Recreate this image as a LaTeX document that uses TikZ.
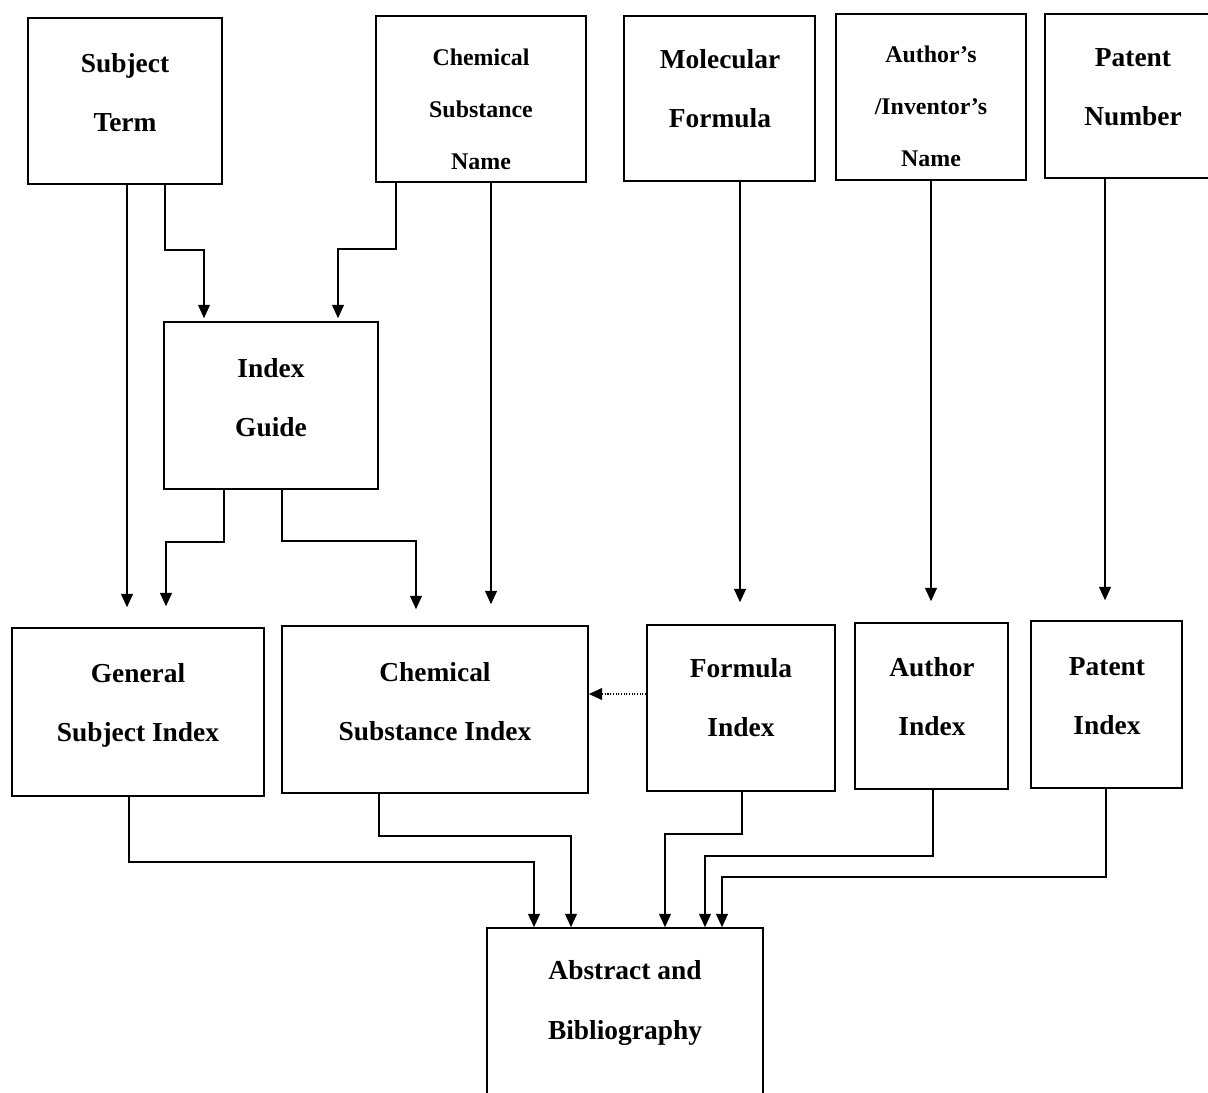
\documentclass[tikz,border=0pt]{standalone}
\usepackage{fontspec}
\setmainfont{Liberation Serif}
\usetikzlibrary{arrows.meta,fit}
\begin{document}
\begin{tikzpicture}[x=0.025cm,y=-0.025cm,
  box/.style={draw,line width=1.2pt,inner sep=0pt},
  big/.style={font=\fontsize{19.5}{42}\selectfont\bfseries,align=center,inner sep=0pt},
  small/.style={font=\fontsize{17}{37}\selectfont\bfseries,align=center,inner sep=0pt},
  conn/.style={line width=0.9pt,-{Triangle[length=9.5pt,width=8.5pt]}},
  gap/.style={shorten >=#1*0.7087pt}]
\useasboundingbox (0,0) rectangle (1208,1092);
% top row
\node[box,fit={(28,18)(222,184)}] (st) {};
\node[big] (stt) at (125,93) {Subject\\Term};
\node[box,fit={(376,16)(586,182)}] (csn) {};
\node[small] (csnt) at (481,109) {Chemical\\Substance\\Name};
\node[box,fit={(624,16)(815,181)}] (mf) {};
\node[big] (mft) at (720,89) {Molecular\\Formula};
\node[box,fit={(836,14)(1026,180)}] (an) {};
\node[small] (ant) at (931,106) {Author’s\\/Inventor’s\\Name};
\node[box,fit={(1045,14)(1222,178)}] (pn) {};
\node[big] (pnt) at (1133,87) {Patent\\Number};
% index guide
\node[box,fit={(164,322)(378,489)}] (ig) {};
\node[big] (igt) at (271,398) {Index\\Guide};
% index row
\node[box,fit={(12,628)(264,796)}] (gsi) {};
\node[big] (gsit) at (138,705) {General\\Subject Index};
\node[box,fit={(282,626)(588,793)}] (csi) {};
\node[big] (csit) at (435,702) {Chemical\\Substance Index};
\node[box,fit={(647,625)(835,791)}] (fi) {};
\node[big] (fit) at (741,698) {Formula\\Index};
\node[box,fit={(855,623)(1008,789)}] (ai) {};
\node[big] (ait) at (932,697) {Author\\Index};
\node[box,fit={(1031,621)(1182,788)}] (pi) {};
\node[big] (pit) at (1107,696) {Patent\\Index};
% abstract
\node[box,fit={(487,928)(763,1100)}] (ab) {};
\node[big] (abt) at (625,1003) {Abstract and\\Bibliography};
% connectors top
\draw[conn,gap=20] (st.south -| 127,0) -- (gsi.north -| 127,0);
\draw[conn,gap=3] (st.south -| 165,0) -- (165,250) -- (204,250) -- (ig.north -| 204,0);
\draw[conn,gap=3] (csn.south -| 396,0) -- (396,249) -- (338,249) -- (ig.north -| 338,0);
\draw[conn,gap=21] (csn.south -| 491,0) -- (csi.north -| 491,0);
\draw[conn,gap=21] (ig.south -| 224,0) -- (224,542) -- (166,542) -- (gsi.north -| 166,0);
\draw[conn,gap=16] (ig.south -| 282,0) -- (282,541) -- (416,541) -- (csi.north -| 416,0);
\draw[conn,gap=22] (mf.south -| 740,0) -- (fi.north -| 740,0);
\draw[conn,gap=21] (an.south -| 931,0) -- (ai.north -| 931,0);
\draw[conn,gap=20] (pn.south -| 1105,0) -- (pi.north -| 1105,0);
\draw[conn,densely dotted] (fi.west |- 0,694) -- (csi.east |- 0,694);
% connectors bottom
\draw[conn] (gsi.south -| 129,0) -- (129,862) -- (534,862) -- (ab.north -| 534,0);
\draw[conn] (csi.south -| 379,0) -- (379,836) -- (571,836) -- (ab.north -| 571,0);
\draw[conn] (fi.south -| 742,0) -- (742,834) -- (665,834) -- (ab.north -| 665,0);
\draw[conn] (ai.south -| 933,0) -- (933,856) -- (705,856) -- (ab.north -| 705,0);
\draw[conn] (pi.south -| 1106,0) -- (1106,877) -- (722,877) -- (ab.north -| 722,0);
\end{tikzpicture}
\end{document}
